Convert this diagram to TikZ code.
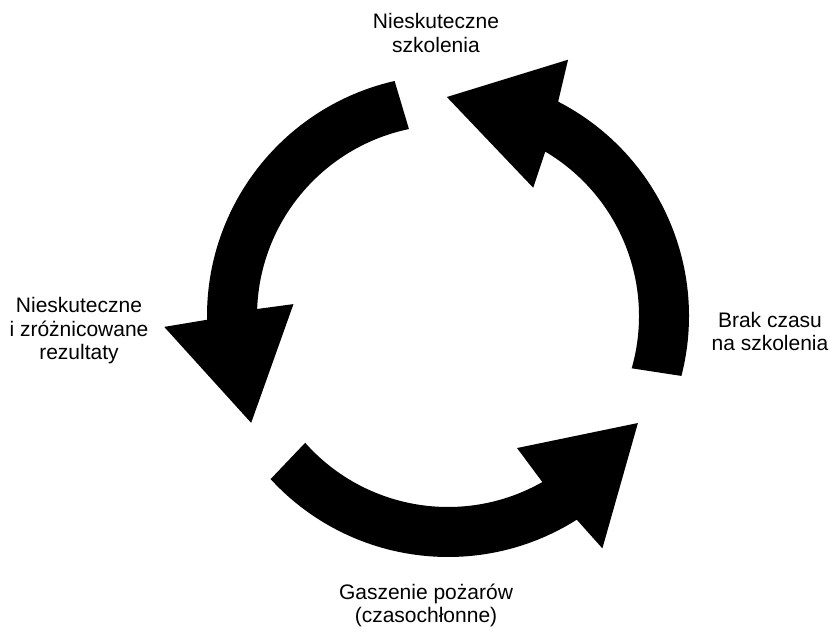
\documentclass[tikz,border=0pt]{standalone}
\usepackage{fontspec}
\setmainfont{Liberation Sans}
\usetikzlibrary{calc}

\begin{document}
\begin{tikzpicture}[
  x=1pt, y=1pt,
  line join=miter,
  cyc/.style={fill=black, draw=none},
  lbl/.style={font=\fontsize{21}{23.5}\selectfont, align=center,
              inner sep=0pt, anchor=north}
]
\useasboundingbox (0,0) rectangle (831,627);
\def\Ro{241}
\def\Ri{191}
\coordinate (c) at (448,311);
\begin{scope}[shift={(c)}]
  % top-left arrow
  \fill[cyc] (102.8:\Ro) arc[start angle=102.8, end angle=180.9, radius=\Ro]
    -- (182.2:284) -- (208.5:224) -- (175.6:155) -- (177.9:\Ri)
    arc[start angle=177.9, end angle=101.8, radius=\Ri] -- cycle;
  % right arrow
  \fill[cyc] (-14.4:\Ro) arc[start angle=-14.4, end angle=62.8, radius=\Ro]
    -- (64.9:283) -- (90.3:219) -- (56.4:154) -- (59.4:\Ri)
    arc[start angle=59.4, end angle=-15.9, radius=\Ri] -- cycle;
  % bottom arrow
  \fill[cyc] (222.6:\Ro) arc[start angle=222.6, end angle=302.3, radius=\Ro]
    -- (303.6:279) -- (330.6:218) -- (297.6:149) -- (299.6:\Ri)
    arc[start angle=299.6, end angle=221.6, radius=\Ri] -- cycle;
\end{scope}
\node[lbl] (train)   at (436,613.7) {Nieskuteczne\\szkolenia};
\node[lbl] (results) at (79,329.7)  {Nieskuteczne\\i zróżnicowane\\rezultaty};
\node[lbl] (notime)  at (770,315.3) {Brak czasu\\na szkolenia};
\node[lbl] (fires)   at (426,43.5)  {Gaszenie pożarów\\(czasochłonne)};
\end{tikzpicture}
\end{document}
